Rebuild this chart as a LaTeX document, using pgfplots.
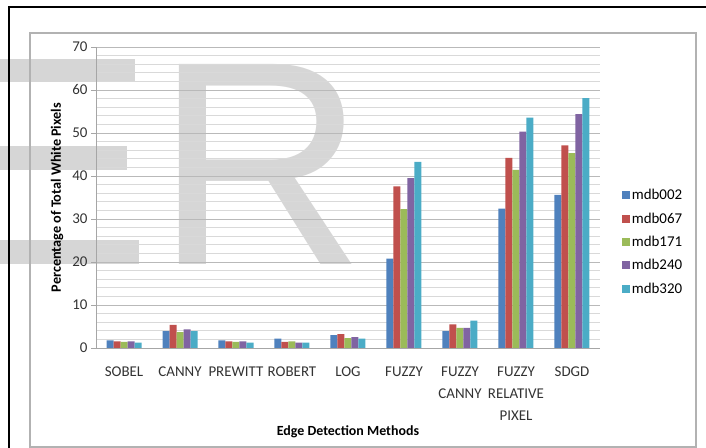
\documentclass[border=0pt]{standalone}
\usepackage{fontspec}
\setmainfont{Carlito}
\newfontfamily\wmfont{Liberation Sans}
\usepackage{pgfplots}
\pgfplotsset{compat=1.18}
\usepackage{pgfplotstable}

\definecolor{cA}{HTML}{4F81BD}
\definecolor{cB}{HTML}{C0504D}
\definecolor{cC}{HTML}{9BBB59}
\definecolor{cD}{HTML}{8064A2}
\definecolor{cE}{HTML}{4BACC6}
\definecolor{wm}{RGB}{214,214,214}

% percentage of total white pixels, one row per method
\pgfplotstableread{
x   a     b     c     d     e
0   1.8   1.55  1.4   1.55  1.25
1   3.95  5.35  3.7   4.35  3.95
2   1.8   1.55  1.4   1.55  1.25
3   2.2   1.4   1.55  1.25  1.25
4   3.0   3.2   2.3   2.55  2.2
5   20.8  37.6  32.3  39.5  43.3
6   3.95  5.5   4.7   4.7   6.35
7   32.4  44.2  41.4  50.3  53.6
8   35.6  47.1  45.3  54.4  58.1
}\edgedata

\begin{document}
\begin{tikzpicture}
\useasboundingbox (0,0) rectangle (706bp,448bp);

% watermark behind the chart
\fill[wm] (0,389bp) rectangle (135bp,366bp);
\fill[wm] (0,302bp) rectangle (127bp,278bp);
\fill[wm] (0,208bp) rectangle (139bp,184bp);
\node[anchor=base west, inner sep=0pt, text=wm,
      font=\wmfont\fontsize{292}{292}\selectfont] at (155bp,183bp) {R};

% frames
\draw[black, line width=2bp] (9bp,0) -- (9bp,441bp) -- (706bp,441bp);
\draw[gray!60, line width=1.2bp] (30bp,1bp) rectangle (696bp,415bp);

\begin{axis}[
  at={(96bp,100bp)}, anchor=south west,
  scale only axis, width=504bp, height=301bp,
  ybar=0pt, bar width=7bp,
  xmin=-0.5, xmax=8.5, ymin=0, ymax=70,
  axis x line*=bottom, axis y line*=left,
  axis line style={gray!70, line width=0.8bp},
  xtick={0,...,8},
  xticklabels={SOBEL, CANNY, PREWITT, ROBERT, LOG, FUZZY,
    {FUZZY\\CANNY}, {FUZZY\\RELATIVE\\PIXEL}, SDGD},
  x tick style={draw=none},
  ytick={0,10,...,70},
  minor y tick num=4,
  ymajorgrids, yminorgrids,
  major grid style={gray!55, line width=0.8bp},
  minor grid style={gray!30, line width=0.6bp},
  y tick style={gray!70, line width=0.8bp},
  major tick length=5bp, minor tick length=0pt, tick align=outside,
  ticklabel style={font=\fontsize{15}{22.5}\selectfont, text=black!80},
  x tick label style={align=center, yshift=-10bp},
  /pgf/number format/assume math mode=true,
  xlabel={Edge Detection Methods},
  xlabel style={at={(rel axis cs:0.5,-0.279)}, anchor=center,
    font=\fontsize{14}{16}\selectfont\bfseries},
  ylabel={Percentage of Total White Pixels},
  ylabel style={at={(rel axis cs:-0.0774,0.5)}, anchor=center,
    font=\fontsize{14.3}{16}\selectfont\bfseries},
  legend style={at={(rel axis cs:1.043,0.352)}, anchor=west,
    draw=none, fill=none, inner sep=0pt,
    font=\fontsize{15}{17}\selectfont, row sep=7.5bp},
  legend image code/.code={\fill[#1] (0bp,-4bp) rectangle (8bp,4bp);},
]
\addplot[fill=cA, draw=none] table[x=x, y=a] {\edgedata};
\addplot[fill=cB, draw=none] table[x=x, y=b] {\edgedata};
\addplot[fill=cC, draw=none] table[x=x, y=c] {\edgedata};
\addplot[fill=cD, draw=none] table[x=x, y=d] {\edgedata};
\addplot[fill=cE, draw=none] table[x=x, y=e] {\edgedata};
\legend{mdb002, mdb067, mdb171, mdb240, mdb320}
\end{axis}
\end{tikzpicture}
\end{document}
